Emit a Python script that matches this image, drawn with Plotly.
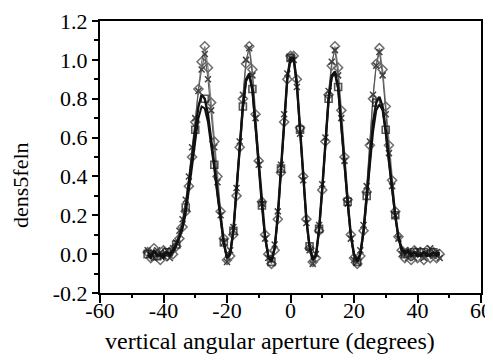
import plotly.graph_objects as go

# ---------------- data ----------------
angle_deg = list(range(-45, 48))  # -45 .. 47 degrees, 1 deg steps

dens_diamond = [
    0.01, -0.02, 0.03, 0.00, -0.03, 0.02, -0.01, 0.01, 0.00, 0.04,      # -45..-36
    0.08, 0.14, 0.22, 0.35, 0.50, 0.68, 0.85, 0.99, 1.07, 0.96,          # -35..-26
    0.78, 0.58, 0.40, 0.22, 0.08, -0.03, -0.01, 0.10, 0.30, 0.55,        # -25..-16
    0.80, 0.98, 1.07, 0.95, 0.72, 0.48, 0.27, 0.10, 0.00, -0.05,         # -15..-6
    0.02, 0.18, 0.42, 0.68, 0.90, 1.02, 1.02, 0.90, 0.65, 0.40,          # -5..4
    0.18, 0.03, -0.04, -0.02, 0.12, 0.33, 0.58, 0.82, 0.97, 1.07,        # 5..14
    0.96, 0.74, 0.50, 0.28, 0.10, -0.02, -0.05, -0.01, 0.12, 0.32,       # 15..24
    0.56, 0.80, 0.98, 1.06, 0.95, 0.76, 0.56, 0.38, 0.22, 0.09,          # 25..34
    0.02, -0.02, 0.01, -0.03, 0.02, -0.02, 0.01, -0.03, 0.02, -0.02,     # 35..44
    0.01, -0.02, 0.00,                                                   # 45..47
]

dens_cross = [
    0.02, 0.00, -0.02, 0.02, 0.01, -0.01, 0.02, -0.02, 0.03, 0.06,
    0.12, 0.18, 0.28, 0.40, 0.55, 0.70, 0.84, 0.95, 1.03, 0.90,
    0.74, 0.55, 0.37, 0.20, 0.06, -0.04, 0.02, 0.14, 0.34, 0.58,
    0.82, 1.00, 1.06, 0.92, 0.70, 0.46, 0.26, 0.08, -0.02, -0.03,
    0.05, 0.22, 0.46, 0.72, 0.93, 1.01, 1.00, 0.86, 0.62, 0.38,
    0.16, 0.02, -0.05, 0.00, 0.15, 0.36, 0.60, 0.84, 0.99, 1.05,
    0.92, 0.70, 0.48, 0.26, 0.08, -0.03, -0.04, 0.02, 0.15, 0.35,
    0.58, 0.82, 0.97, 1.04, 0.92, 0.72, 0.52, 0.35, 0.20, 0.08,
    0.00, 0.02, -0.02, 0.01, -0.02, 0.02, 0.00, -0.02, 0.01, 0.03,
    -0.01, 0.01, -0.02,
]

dens_square = [
    0.00, -0.02, 0.02, -0.01, 0.00, -0.02, 0.01, 0.00, 0.02, 0.05,
    0.09, 0.15, 0.24, 0.36, 0.50, 0.64, 0.76, 0.82, 0.80, 0.72,
    0.60, 0.46, 0.32, 0.18, 0.06, -0.02, 0.00, 0.12, 0.32, 0.55,
    0.76, 0.90, 0.93, 0.85, 0.66, 0.45, 0.25, 0.09, -0.01, -0.04,
    0.03, 0.20, 0.44, 0.70, 0.91, 1.01, 1.01, 0.88, 0.64, 0.40,
    0.18, 0.04, -0.03, -0.01, 0.13, 0.34, 0.58, 0.80, 0.92, 0.94,
    0.86, 0.68, 0.47, 0.27, 0.10, 0.00, -0.04, 0.00, 0.12, 0.30,
    0.50, 0.68, 0.78, 0.81, 0.76, 0.64, 0.49, 0.34, 0.20, 0.09,
    0.03, 0.00, 0.02, -0.01, 0.01, 0.00, -0.01, 0.01, 0.00, -0.01,
    0.01, 0.00, 0.01,
]

dens_line = [
    0.01, -0.01, 0.01, 0.00, -0.01, 0.00, 0.01, -0.01, 0.01, 0.04,
    0.08, 0.13, 0.21, 0.32, 0.45, 0.58, 0.70, 0.76, 0.75, 0.68,
    0.57, 0.44, 0.30, 0.17, 0.05, -0.02, 0.01, 0.12, 0.31, 0.54,
    0.75, 0.89, 0.92, 0.84, 0.65, 0.44, 0.24, 0.08, -0.01, -0.03,
    0.03, 0.19, 0.43, 0.69, 0.90, 1.00, 1.00, 0.87, 0.63, 0.39,
    0.17, 0.04, -0.02, -0.01, 0.12, 0.33, 0.57, 0.79, 0.91, 0.93,
    0.85, 0.67, 0.46, 0.26, 0.09, 0.00, -0.03, 0.00, 0.11, 0.28,
    0.47, 0.63, 0.74, 0.77, 0.74, 0.62, 0.47, 0.32, 0.19, 0.08,
    0.02, 0.01, 0.01, 0.00, 0.01, -0.01, 0.00, 0.01, -0.01, 0.00,
    0.01, -0.01, 0.00,
]

x_tickvals = [-60, -40, -20, 0, 20, 40, 60]
x_ticktext = ["-60", "-40", "-20", "0", "20", "40", "60"]
y_tickvals = [-0.2, 0.0, 0.2, 0.4, 0.6, 0.8, 1.0, 1.2]
y_ticktext = ["-0.2", "0.0", "0.2", "0.4", "0.6", "0.8", "1.0", "1.2"]

x_title = "vertical angular aperture (degrees)"
y_title = "dens5feln"

# ---------------- figure ----------------
FONT = "Liberation Serif, Times New Roman, serif"
OFF = 8  # browser body margin offset
W, H = 493 - OFF, 361 - OFF
PL, PR, PT, PB = 100 - OFF, 481 - OFF, 21 - OFF, 293 - OFF  # plot box in figure px
pw, ph = PR - PL, PB - PT

fig = go.Figure()

fig.add_trace(go.Scatter(
    x=angle_deg, y=dens_diamond, mode="lines+markers",
    line=dict(color="#808080", width=1.3),
    marker=dict(symbol="diamond-open", size=7, color="#6e6e6e", line=dict(width=1.5)),
    showlegend=False))

fig.add_trace(go.Scatter(
    x=angle_deg, y=dens_cross, mode="lines+markers",
    line=dict(color="#555555", width=1),
    marker=dict(symbol="x-thin-open", size=6, color="#404040", line=dict(width=1.5, color="#404040")),
    showlegend=False))

fig.add_trace(go.Scatter(
    x=angle_deg, y=dens_line, mode="lines",
    line=dict(color="#111111", width=2),
    showlegend=False))

sq_sizes = [7 if i % 3 == 0 else 0 for i in range(len(angle_deg))]
fig.add_trace(go.Scatter(
    x=angle_deg, y=dens_square, mode="lines+markers",
    line=dict(color="#111111", width=2.4),
    marker=dict(symbol="square-open", size=sq_sizes, color="#111111", line=dict(width=1.6)),
    showlegend=False))

axis_common = dict(
    showline=True, linecolor="black", linewidth=2, mirror=True,
    showgrid=False, zeroline=False, automargin=False,
    ticks="outside", tickcolor="black", tickwidth=2,
    tickfont=dict(family=FONT, size=22, color="black"),
)

fig.update_xaxes(
    range=[-60, 60], tickmode="array", tickvals=x_tickvals, ticktext=x_ticktext,
    ticklen=8, ticklabelstandoff=-11,
    minor=dict(dtick=10, ticklen=3, tickwidth=2, tickcolor="black", ticks="outside"),
    **axis_common)
fig.update_yaxes(
    range=[-0.2, 1.2], tickmode="array", tickvals=y_tickvals, ticktext=y_ticktext,
    ticklen=6, minor=dict(dtick=0.1, ticklen=4, tickwidth=2, tickcolor="black", ticks="outside"),
    **axis_common)

fig.update_layout(
    width=W, height=H,
    margin=dict(l=PL, r=W - PR, t=PT, b=H - PB, autoexpand=False),
    paper_bgcolor="white", plot_bgcolor="white",
    annotations=[
        dict(text=x_title, xref="paper", yref="paper", x=(270 - 100) / pw, y=(293 - 341) / ph,
             xanchor="center", yanchor="middle", showarrow=False,
             font=dict(family=FONT, size=24, color="black")),
        dict(text=y_title, xref="paper", yref="paper", x=(20 - 100) / pw, y=(293 - 185) / ph,
             xanchor="center", yanchor="middle", showarrow=False, textangle=-90,
             font=dict(family=FONT, size=22, color="black")),
    ],
)

fig.write_html("out.html")
